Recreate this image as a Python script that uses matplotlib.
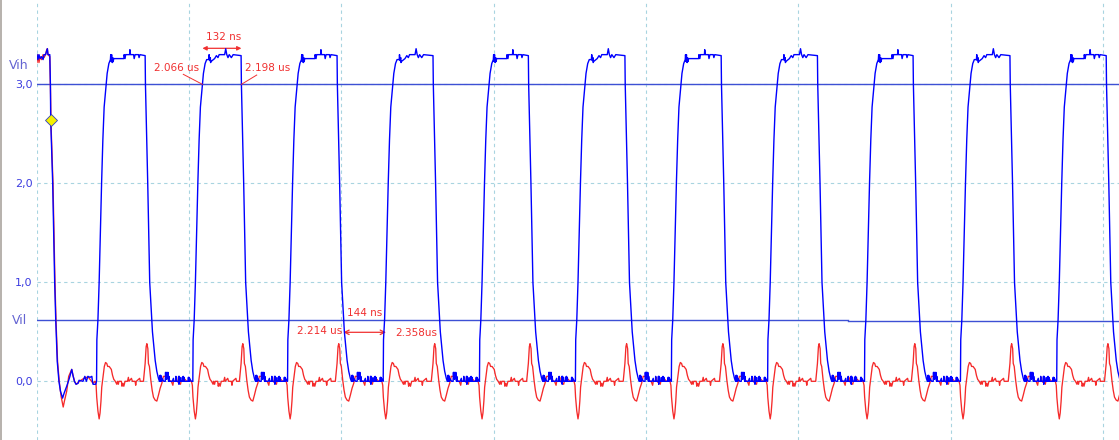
import matplotlib
matplotlib.use("Agg")
import matplotlib.pyplot as plt
from matplotlib.lines import Line2D
import numpy as np

# ---------------- data (time in ns, voltage in V) ----------------
rise_times = [228, 544, 855, 1169, 1485, 1800, 2115, 2431, 2749, 3064, 3380]
fall_times = [45, 357, 672, 987, 1302, 1615, 1932, 2248, 2564, 2878, 3196, 3512]

# pre-trigger segment (blue / red read point by point)
blue_start_t = [-3, 1, 4, 7.5, 11, 16, 21, 24, 29, 32, 35, 37, 43, 45, 46,
                52.5, 59, 62.5, 67.5, 73, 78, 85, 90, 98.5, 104, 109, 115, 119,
                124, 129, 136, 139, 152, 158, 163, 168, 175, 181, 183, 185, 194]
blue_start_v = [3.27, 3.30, 3.25, 3.30, 3.26, 3.28, 3.25, 3.30, 3.30, 3.33, 3.36, 3.30, 3.30, 3.0, 2.64,
                2.0, 1.0, 0.62, 0.2, 0.0, -0.1, -0.17, -0.12, -0.05, 0.0, 0.05, 0.12, 0.06,
                0.0, -0.03, -0.02, 0.01, 0.0, 0.05, 0.0, 0.05, 0.04, 0.05, 0.0, -0.03, -0.03]
red_start_t = [-3, 1, 4, 7.5, 11, 16, 21, 24, 29, 32, 35, 37, 43, 45.5, 47,
               53.5, 60, 63.5, 68.5, 74, 80, 87, 91, 98.5, 105, 115, 120, 124,
               130, 140, 150, 160, 170, 180, 185, 191]
red_start_v = [3.25, 3.22, 3.30, 3.22, 3.28, 3.25, 3.30, 3.27, 3.30, 3.34, 3.36, 3.30, 3.28, 2.9, 2.6,
               2.0, 1.0, 0.6, 0.2, 0.0, -0.15, -0.26, -0.2, -0.1, 0.05, 0.12, 0.05, 0.0,
               -0.03, 0.0, 0.02, 0.04, 0.04, 0.0, -0.02, 0.0]

# blue edge shapes (offset from the 3.0 V crossing)
blue_rise_dt = [-31.5, -30.5, -27, -23, -19.7, -15, -10.8, -6.6, 0, 3.3, 8.9, 14]
blue_rise_v = [0.0, 0.42, 0.62, 1.0, 1.43, 2.0, 2.44, 2.77, 3.0, 3.11, 3.21, 3.25]
blue_fall_dt = [-1, 0, 7.5, 14, 20.7, 23, 32, 37.4, 42.7, 46]
blue_fall_v = [3.29, 3.0, 2.0, 1.0, 0.62, 0.5, 0.21, 0.1, 0.03, 0.0]

# blue high-level ripple (two read variants, offset from rise)
plateau_a_dt = [15, 17, 18, 18.5, 19.5, 20.5, 21.5, 23, 25, 58, 59, 62, 64, 77, 78, 80, 90, 92, 95,
                106, 108, 111]
plateau_a_v = [3.30, 3.23, 3.30, 3.23, 3.27, 3.22, 3.27, 3.23, 3.26, 3.26, 3.30, 3.26, 3.30, 3.30,
               3.35, 3.30, 3.30, 3.26, 3.30, 3.30, 3.27, 3.30]
plateau_b_dt = [15, 21, 22, 24, 26, 27, 28, 40, 46, 51, 55, 73, 76.5, 80, 84, 88, 95, 101]
plateau_b_v = [3.25, 3.25, 3.30, 3.24, 3.27, 3.22, 3.23, 3.26, 3.29, 3.27, 3.30, 3.30, 3.36, 3.30,
               3.27, 3.30, 3.27, 3.30]

# blue low-level ripple (offset from fall)
blue_low_dt = [47, 48, 49, 50, 51, 52, 53, 54, 60, 65, 66, 67, 68, 70, 71, 73, 74, 76, 77, 79, 80,
               88, 92, 93, 99, 100, 101, 108, 109, 110, 111, 112, 113, 115, 120, 121, 122, 124,
               125, 127, 128, 140, 141, 142, 143, 144, 145, 150]
blue_low_v = [0.0, 0.06, 0.01, 0.06, 0.0, 0.05, 0.0, 0.03, 0.0, 0.0, 0.09, 0.04, 0.09, 0.02, 0.09,
              0.03, 0.09, 0.0, 0.05, 0.0, 0.0, 0.0, 0.03, 0.0, 0.0, 0.05, 0.0, 0.0, 0.05, -0.03,
              0.05, 0.0, 0.04, 0.0, 0.0, 0.04, 0.0, 0.05, 0.0, 0.04, 0.0, 0.0, 0.04, 0.0, 0.04,
              0.0, 0.03, 0.0]

# red crosstalk shapes
red_rise_dt = [-36, -33, -31, -27, -23, -20, -17, -14.5, -10, -6, -2, 2, 5, 10, 17, 21, 25, 30]
red_rise_v = [0.0, -0.04, -0.16, -0.3, -0.38, -0.32, -0.2, -0.06, 0.05, 0.15, 0.19, 0.18, 0.15,
              0.15, 0.12, 0.06, 0.02, 0.0]
red_fall_dt = [-6.6, -1, 2.3, 4.6, 7.9, 9.8, 13, 17.7, 22, 26.3, 31.8, 37.4, 42.7, 48.3, 53.8, 59,
               70, 79, 83]
red_fall_v = [0.0, 0.18, 0.35, 0.38, 0.33, 0.18, 0.15, 0.01, -0.09, -0.16, -0.19, -0.2, -0.14,
              -0.07, -0.02, 0.05, 0.05, 0.01, 0.0]
red_hi_dt = [35, 37, 40, 42, 50, 52, 55, 58, 62, 70, 73, 75, 83, 86, 95, 97, 99, 110, 112]
red_hi_v = [-0.03, 0.0, -0.03, 0.0, 0.0, -0.05, -0.02, -0.05, 0.0, 0.0, 0.04, 0.0, 0.03, 0.0, 0.0,
            -0.04, 0.0, 0.03, 0.0]
red_lo_dt = [85, 90, 92, 100, 102, 104, 115, 117, 130, 135, 145]
red_lo_v = [0.0, -0.04, 0.0, 0.0, 0.04, 0.0, -0.03, 0.0, 0.02, 0.0, 0.0]

# thresholds
vih_level = 3.0
vil_levels = [0.616, 0.606]
vil_step_t = 2662

y_ticks = [0.0, 1.0, 2.0, 3.0]
y_tick_labels = ["0,0", "1,0", "2,0", "3,0"]

marker_t, marker_v = 47, 2.636


# ---------------- assemble traces ----------------
def place(t0, dts, vs, lo=-np.inf, hi=np.inf):
    t = t0 + np.asarray(dts, float)
    v = np.asarray(vs, float)
    m = (t >= lo) & (t <= hi)
    return t[m], v[m]


blue_pieces = [(np.array(blue_start_t, float), np.array(blue_start_v, float))]
red_pieces = [(np.array(red_start_t, float), np.array(red_start_v, float))]
plateaus = [(plateau_a_dt, plateau_a_v), (plateau_b_dt, plateau_b_v)]
for i, r in enumerate(rise_times):
    f = fall_times[i + 1]
    nr = rise_times[i + 1] if i + 1 < len(rise_times) else np.inf
    blue_pieces.append(place(r, blue_rise_dt, blue_rise_v))
    pdt, pv = plateaus[i % 2]
    blue_pieces.append(place(r, pdt, pv, r + 14.5, f - 1.5))
    blue_pieces.append(place(f, blue_fall_dt, blue_fall_v))
    blue_pieces.append(place(f, blue_low_dt, blue_low_v, f + 46.5, nr - 32))

    red_pieces.append(place(r, red_rise_dt, red_rise_v))
    red_pieces.append(place(r, red_hi_dt, red_hi_v, r + 31, f - 7))
    red_pieces.append(place(f, red_fall_dt, red_fall_v))
    red_pieces.append(place(f, red_lo_dt, red_lo_v, f + 84, nr - 37))


def join(pieces):
    t = np.concatenate([p[0] for p in pieces])
    v = np.concatenate([p[1] for p in pieces])
    o = np.argsort(t, kind="stable")
    return t[o], v[o]


blue_t, blue_v = join(blue_pieces)
red_t, red_v = join(red_pieces)

# ---------------- figure ----------------
W, H = 1119, 440
fig = plt.figure(figsize=(W / 100, H / 100), dpi=100)
left = 36.7 / W
ax = fig.add_axes([left, 0, 1 - left, 1])
ax.set_xlim(0, 3553)
ax.set_ylim(-0.593, 3.852)
for s in ax.spines.values():
    s.set_visible(False)

grid_c = "#a8d4e0"
ax.set_xticks(np.arange(0, 3553, 500))
ax.set_yticks(y_ticks)
ax.set_yticklabels(y_tick_labels)
ax.tick_params(axis="x", length=0, labelbottom=False)
ax.tick_params(axis="y", length=0, pad=3, labelsize=8, labelcolor="#3c3ce0")
ax.grid(True, color=grid_c, linestyle=(0, (3, 3)), linewidth=0.8, zorder=1)
ax.set_axisbelow(True)

line_c = "#3d50d4"
ax.axhline(vih_level, color=line_c, lw=1.0, zorder=2)
ax.plot([0, vil_step_t], [vil_levels[0]] * 2, color=line_c, lw=1.0, zorder=2)
ax.plot([vil_step_t, 3553], [vil_levels[1]] * 2, color=line_c, lw=1.0, zorder=2)

ax.plot(red_t, red_v, color="#f52a2a", lw=0.95, zorder=3)
ax.plot(blue_t, blue_v, color="#0000ff", lw=1.0, zorder=4)

ax.plot([marker_t], [marker_v], marker="D", markersize=6.5, markerfacecolor="#f5f000",
        markeredgecolor="#3040c0", markeredgewidth=0.6, zorder=5, linestyle="none")

lab_c = "#6464d2"
ax.text(-17.5 * 3.283, 3.195, "Vih", color=lab_c, fontsize=9, ha="center", va="center", clip_on=False)
ax.text(-17 * 3.283, vil_levels[0], "Vil", color=lab_c, fontsize=9, ha="center", va="center", clip_on=False)

# measurement annotations
red_c = "#f03030"
afs = 7.5
ax.text(615, 3.478, "132 ns", color=red_c, fontsize=afs, ha="center", va="center")
ax.annotate("", xy=(rise_times[1], 3.364), xytext=(fall_times[2], 3.364),
            arrowprops=dict(arrowstyle="<|-|>", color=red_c, lw=0.9, mutation_scale=6, shrinkA=0, shrinkB=0))
ax.text(533.8, 3.165, "2.066 us", color=red_c, fontsize=afs, ha="right", va="center")
ax.plot([481.3, rise_times[1]], [3.101, vih_level], color=red_c, lw=0.7, zorder=6)
ax.text(683.9, 3.162, "2.198 us", color=red_c, fontsize=afs, ha="left", va="center")
ax.plot([722.3, fall_times[2]], [3.094, vih_level], color=red_c, lw=0.7, zorder=6)

ax.text(1075, 0.69, "144 ns", color=red_c, fontsize=afs, ha="center", va="center")
ax.text(1003, 0.508, "2.214 us", color=red_c, fontsize=afs, ha="right", va="center")
ax.annotate("", xy=(1006.6, 0.495), xytext=(1146.8, 0.495),
            arrowprops=dict(arrowstyle="<->", color=red_c, lw=0.9, mutation_scale=8, shrinkA=0, shrinkB=0))
ax.text(1176, 0.485, "2.358us", color=red_c, fontsize=afs, ha="left", va="center")

# left frame border of the scope window
fig.add_artist(Line2D([0.5 / W, 0.5 / W], [0, 1], transform=fig.transFigure, color="#aaa49e", lw=1.2))

fig.savefig("out.png", dpi=100)
